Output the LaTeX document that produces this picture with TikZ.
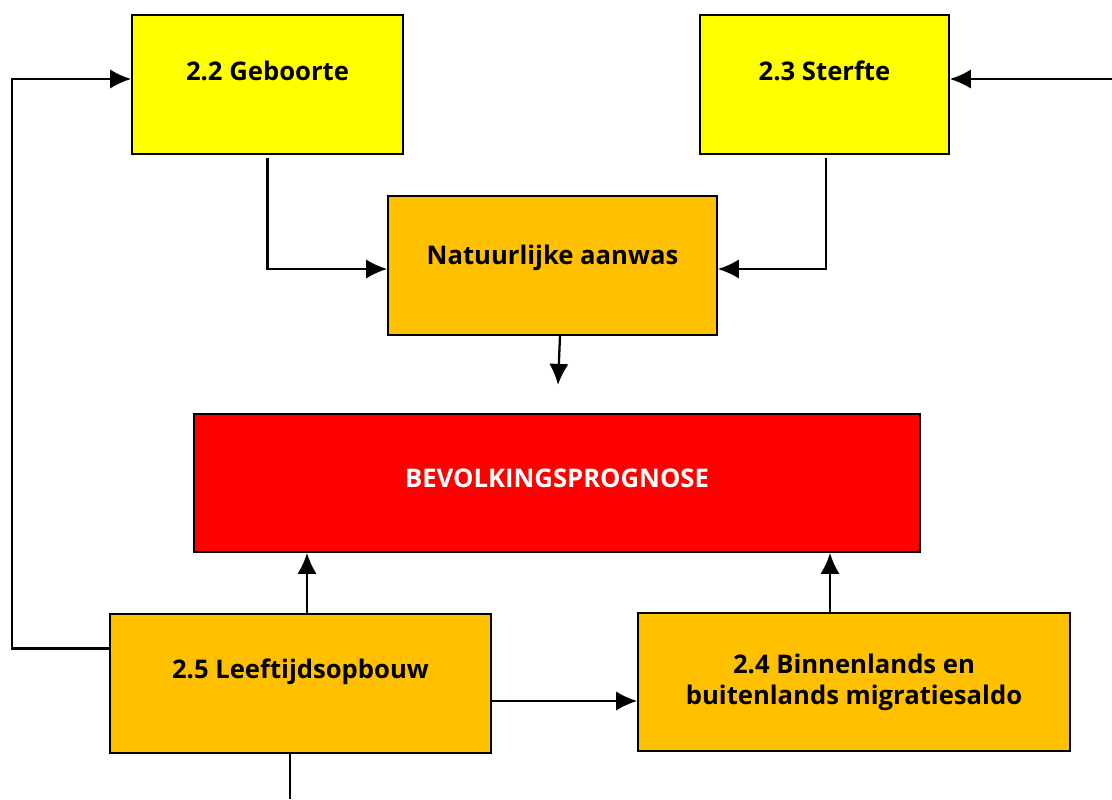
\documentclass[tikz,border=0pt]{standalone}
\usepackage{fontspec}
\setmainfont{Open Sans}
\usepackage{tikz}
\usetikzlibrary{calc,arrows.meta}
\definecolor{geel}{HTML}{FFFF00}
\definecolor{oranje}{HTML}{FFC000}
\definecolor{rood}{HTML}{FF0000}
\newcommand{\labfont}{\fontsize{14.6}{17.6}\selectfont\bfseries}
\tikzset{
  box/.style={draw,line width=1pt,inner sep=0pt,align=center,font=\labfont},
  arr/.style={line width=1.3pt,-{Latex[length=12pt,width=11pt]}}
}

\begin{document}
\begin{tikzpicture}[x=0.02cm,y=-0.02cm]
              \useasboundingbox (0,0) rectangle (1112,799);
              \node[box,fill=geel,minimum width=5.42cm,minimum height=2.78cm,text depth=16pt](geb)at(267.5,84.5){2.2 Geboorte};
              \node[box,fill=geel,minimum width=4.98cm,minimum height=2.78cm,text depth=16pt](ster)at(824.5,84.5){2.3 Sterfte};
              \node[box,fill=oranje,minimum width=6.58cm,minimum height=2.78cm,text depth=12pt](nat)at(552.5,265.5){Natuurlijke aanwas};
              \node[box,fill=rood,text=white,minimum width=14.52cm,minimum height=2.76cm,text depth=5.6pt](bev)at(557,483){BEVOLKINGSPROGNOSE};
              \node[box,fill=oranje,minimum width=7.62cm,minimum height=2.78cm,text depth=17pt](leef)at(300.5,683.5){2.5 Leeftijdsopbouw};
              \node[box,fill=oranje,minimum width=8.64cm,minimum height=2.76cm](mig)at(854,682){2.4 Binnenlands en\\buitenlands migratiesaldo};
              \coordinate (rin) at (1112,79);
              \coordinate (natend) at (558,385);
              \coordinate (leefend) at (290,799);
              \draw[arr]([yshift=0.7cm]leef.west) -| (12,79) -- (geb.west |- 0,79);
              \draw[arr](rin) -- (ster.east |- rin);
              \draw[arr]([yshift=-0.06cm]geb.south) |- (nat.west |- 0,269);
              \draw[arr]([shift={(0.03cm,-0.06cm)}]ster.south) |- (nat.east |- 0,269);
              \draw[arr]([xshift=0.15cm]nat.south) -- (natend);
              \draw[arr](leef.north -| 307,0) -- (bev.south -| 307,0);
              \draw[arr](mig.north -| 830,0) -- (bev.south -| 830,0);
              \draw[arr](leef.east |- 0,701) -- (mig.west |- 0,701);
              \draw[line width=1.3pt](leef.south -| leefend) -- (leefend);
            \end{tikzpicture}
\end{document}
